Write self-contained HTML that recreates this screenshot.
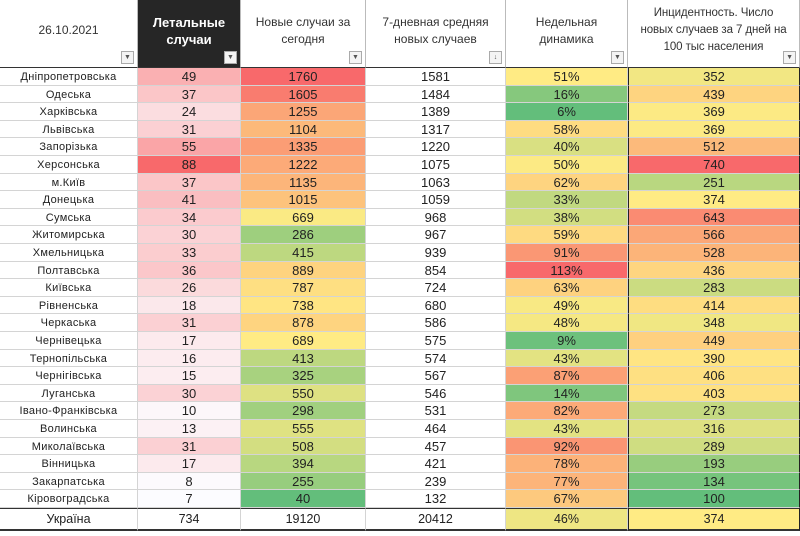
<!DOCTYPE html>
<html><head><meta charset="utf-8">
<style>
body{margin:0;background:#fff;width:800px;height:536px;overflow:hidden;font-family:"Liberation Sans","DejaVu Sans",sans-serif;position:relative;}
.c{position:absolute;box-sizing:border-box;display:flex;align-items:center;justify-content:center;overflow:hidden;white-space:nowrap;color:#222;border-right:1px solid #d4d4d4;border-bottom:1px solid #d4d4d4;}
.h{font-size:12px;line-height:17px;color:#333;border-right:1px solid #bbb;border-bottom:1.5px solid #333;white-space:nowrap;text-align:center;padding-bottom:6px;}
.h.dark{background:#262626;color:#fff;font-weight:bold;font-size:13px;}
.h.small{font-size:11.5px;letter-spacing:-0.1px;}
.dd{position:absolute;right:3px;bottom:3px;width:11px;height:11px;border:1px solid #aaa;background:#f4f4f4;font-size:7px;line-height:11px;color:#555;text-align:center;}
.name{font-size:11px;letter-spacing:0.3px;padding-top:1px;}
.num{font-size:13px;}
.tot{border-top:1.5px solid #333;border-bottom:2px solid #333;font-size:12.5px;}
.inc{border-left:1.5px solid #222;border-right:1.5px solid #222;}
</style></head><body>
<div id="root"></div>
<script>
const regions=["Дніпропетровська","Одеська","Харківська","Львівська","Запорізька","Херсонська","м.Київ","Донецька","Сумська","Житомирська","Хмельницька","Полтавська","Київська","Рівненська","Черкаська","Чернівецька","Тернопільська","Чернігівська","Луганська","Івано-Франківська","Волинська","Миколаївська","Вінницька","Закарпатська","Кіровоградська"];
const deaths=[49,37,24,31,55,88,37,41,34,30,33,36,26,18,31,17,16,15,30,10,13,31,17,8,7];
const newCases=[1760,1605,1255,1104,1335,1222,1135,1015,669,286,415,889,787,738,878,689,413,325,550,298,555,508,394,255,40];
const avg7=[1581,1484,1389,1317,1220,1075,1063,1059,968,967,939,854,724,680,586,575,574,567,546,531,464,457,421,239,132];
const dyn=[51,16,6,58,40,50,62,33,38,59,91,113,63,49,48,9,43,87,14,82,43,92,78,77,67];
const incidence=[352,439,369,369,512,740,251,374,643,566,528,436,283,414,348,449,390,406,403,273,316,289,193,134,100];
const totals=["Україна","734","19120","20412","46%","374"];
const headers=["26.10.2021","Летальные<br>случаи","Новые случаи за<br>сегодня","7-дневная средняя<br>новых случаев","Недельная<br>динамика","Инцидентность. Число<br>новых случаев за 7 дней на<br>100 тыс населения"];
const headerNames=['date-header','deaths-header','new-cases-header','avg7-header','dynamics-header','incidence-header'];
const X=[0,138,241,366,506,628,800];
const G=[99,190,123],Y=[255,235,132],R=[248,105,107],W=[252,252,255];
function mix(a,b,t){return `rgb(${a.map((v,i)=>Math.round(v+(b[i]-v)*t)).join(',')})`;}
function scale3(arr){const s=[...arr].sort((a,b)=>a-b);const mn=s[0],mx=s[s.length-1],md=s[Math.floor(s.length/2)];
 return v=>v<=md?mix(G,Y,(v-mn)/(md-mn||1)):mix(Y,R,(v-md)/(mx-md||1));}
function scale2(arr){const mn=Math.min(...arr),mx=Math.max(...arr);return v=>mix(W,R,(v-mn)/(mx-mn));}
const cD=scale2(deaths),cN=scale3(newCases),cDy=scale3(dyn),cI=scale3(incidence);
const root=document.getElementById('root');
function cell(j,top,h,cls){const d=document.createElement('div');d.className='c '+cls;
 d.style.left=X[j]+'px';d.style.width=(X[j+1]-X[j])+'px';d.style.top=top+'px';d.style.height=h+'px';root.appendChild(d);return d;}
headers.forEach((t,j)=>{const d=cell(j,0,68,'h'+(j==1?' dark':'')+(j==5?' small':''));d.innerHTML='<div>'+t+'</div>';
 
 
 const b=document.createElement('span');b.className='dd';b.textContent=j==3?'↓':'▼';
 
 
 d.appendChild(b);});
const RH=17.6;
const names=['region-name','deaths-cell','new-cases-cell','avg7-cell','dynamics-cell','incidence-cell'];
regions.forEach((r,i)=>{
 const top=Math.round(68+i*RH), h=Math.round(68+(i+1)*RH)-top;
 const cells=[[r,'#fff','name'],[deaths[i],cD(deaths[i]),'num'],[newCases[i],cN(newCases[i]),'num'],[avg7[i],'#fff','num'],[dyn[i]+'%',cDy(dyn[i]),'num'],[incidence[i],cI(incidence[i]),'num inc']];
 cells.forEach((c,j)=>{const d=cell(j,top,h,c[2]);d.textContent=c[0];d.style.background=c[1];
  
  });
});
const tt=Math.round(68+25*RH);
totals.forEach((t,j)=>{const d=cell(j,tt,531-tt,'tot'+(j==5?' inc':''));d.textContent=t;
 if(j==4)d.style.background=cDy(46);if(j==5)d.style.background=cI(374);
 
 });
</script>
</body></html>
